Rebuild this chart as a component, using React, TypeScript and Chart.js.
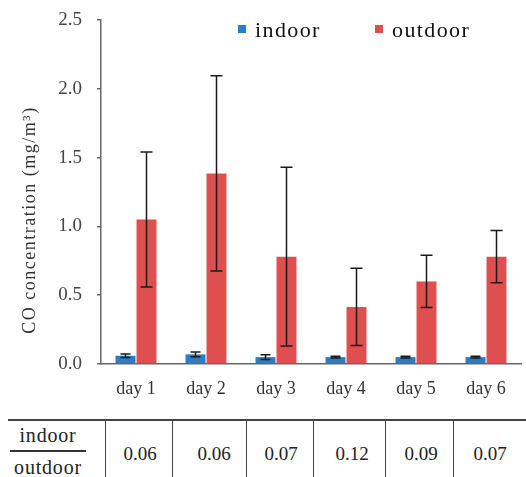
import React, { useEffect, useRef } from "react";
import { Chart, registerables } from "chart.js";

Chart.register(...registerables);

const categories = ["day 1", "day 2", "day 3", "day 4", "day 5", "day 6"];
const indoorValues = [0.06, 0.07, 0.05, 0.05, 0.05, 0.05];
const indoorErrors = [0.012, 0.018, 0.018, 0.006, 0.006, 0.006];
const outdoorValues = [1.05, 1.385, 0.78, 0.415, 0.6, 0.78];
const outdoorErrors = [0.49, 0.71, 0.65, 0.28, 0.19, 0.19];
const ratioLabels = ["0.06", "0.06", "0.07", "0.12", "0.09", "0.07"];
const seriesNames = ["indoor", "outdoor"];
const yTitle = "CO concentration (mg/m³)";

const BLUE = "#2e7bc6";
const RED = "#df4f4f";
const SERIF = "'Liberation Serif', 'Times New Roman', serif";

const errorBarPlugin = {
  id: "errorBars",
  afterDatasetsDraw(chart: any) {
    const ctx = chart.ctx;
    const y = chart.scales.y;
    chart.data.datasets.forEach((ds: any, i: number) => {
      const meta = chart.getDatasetMeta(i);
      meta.data.forEach((el: any, j: number) => {
        const v = ds.data[j];
        const e = ds.errors[j];
        const top = y.getPixelForValue(v + e);
        const bot = y.getPixelForValue(v - e);
        const cap = ds.capWidth / 2;
        ctx.save();
        ctx.strokeStyle = "#1a1a1a";
        ctx.lineWidth = 1.5;
        ctx.beginPath();
        ctx.moveTo(el.x, top);
        ctx.lineTo(el.x, bot);
        ctx.moveTo(el.x - cap, top);
        ctx.lineTo(el.x + cap, top);
        ctx.moveTo(el.x - cap, bot);
        ctx.lineTo(el.x + cap, bot);
        ctx.stroke();
        ctx.restore();
      });
    });
  },
};

const decorPlugin = {
  id: "decor",
  afterDraw(chart: any) {
    const ctx = chart.ctx;
    ctx.save();
    // y-axis title
    ctx.translate(35, 220);
    ctx.rotate(-Math.PI / 2);
    ctx.font = `18px ${SERIF}`;
    (ctx as any).letterSpacing = "1.5px";
    ctx.fillStyle = "#333";
    ctx.textAlign = "center";
    ctx.textBaseline = "alphabetic";
    ctx.fillText(yTitle, 0, 0);
    ctx.restore();

    // legend
    ctx.save();
    ctx.font = `22px ${SERIF}`;
    (ctx as any).letterSpacing = "1.4px";
    ctx.textBaseline = "alphabetic";
    ctx.textAlign = "left";
    const items = [
      { x: 238, color: BLUE, label: seriesNames[0] },
      { x: 375, color: RED, label: seriesNames[1] },
    ];
    items.forEach((it) => {
      ctx.fillStyle = it.color;
      ctx.fillRect(it.x, 25, 8, 8);
      ctx.fillStyle = "#111";
      ctx.fillText(it.label, it.x + 17, 37);
    });
    ctx.restore();
  },
};

export default function App() {
  const ref = useRef<HTMLCanvasElement | null>(null);

  useEffect(() => {
    document.body.style.margin = "0";
    document.body.style.overflow = "hidden";
    const canvas = ref.current!;
    const chart = new Chart(canvas, {
      type: "bar",
      data: {
        labels: categories,
        datasets: [
          {
            label: seriesNames[0],
            data: indoorValues,
            errors: indoorErrors,
            capWidth: 10,
            backgroundColor: BLUE,
            categoryPercentage: 0.6,
            barPercentage: 0.95,
          } as any,
          {
            label: seriesNames[1],
            data: outdoorValues,
            errors: outdoorErrors,
            capWidth: 12,
            backgroundColor: RED,
            categoryPercentage: 0.6,
            barPercentage: 0.95,
          } as any,
        ],
      },
      options: {
        responsive: false,
        animation: false,
        devicePixelRatio: 1,
        layout: { padding: { left: 0, top: 20, right: 5, bottom: 0 } },
        plugins: {
          legend: { display: false },
          tooltip: { enabled: false },
        },
        scales: {
          x: {
            grid: { display: false, drawTicks: false },
            border: { display: true, color: "#666", width: 1.5 },
            ticks: {
              color: "#333",
              padding: 14,
              font: { family: SERIF, size: 18 },
              maxRotation: 0,
            },
            afterFit(scale: any) {
              scale.height = 54;
              scale.paddingLeft = 0;
              scale.paddingRight = 0;
            },
          },
          y: {
            min: 0,
            max: 2.5,
            grid: {
              drawOnChartArea: false,
              drawTicks: true,
              tickLength: 4,
              color: "#666",
              lineWidth: 1.5,
            },
            border: { display: true, color: "#666", width: 1.5 },
            ticks: {
              stepSize: 0.5,
              color: "#444",
              padding: 15,
              font: { family: SERIF, size: 19 },
              callback: (v: any) => Number(v).toFixed(1),
            },
            afterFit(scale: any) {
              scale.width = 101;
              scale.paddingTop = 0;
              scale.paddingBottom = 0;
            },
          },
        },
      },
      plugins: [errorBarPlugin, decorPlugin],
    });
    return () => chart.destroy();
  }, []);

  const colLines = [105, 172, 246, 313, 385, 453];
  const valueCenters = [140, 214, 281, 352, 421, 490];

  const textStyle: React.CSSProperties = {
    position: "absolute",
    fontFamily: SERIF,
    color: "#222",
    whiteSpace: "nowrap",
    transform: "translate(-50%, -50%)",
    lineHeight: 1,
  };

  return (
    <div style={{ position: "relative", width: 526, height: 477, overflow: "hidden" }}>
      <canvas ref={ref} width={526} height={418} style={{ position: "absolute", left: 0, top: 0 }} />
      <div style={{ position: "absolute", left: 8, top: 419, width: 518, height: 2, background: "#444" }} />
      {colLines.map((x, i) => (
        <div key={"c" + i} style={{ position: "absolute", left: x - 0.5, top: 420, width: 1.5, height: 57, background: "#444" }} />
      ))}
      <div style={{ ...textStyle, left: 48, top: 435, fontSize: 20, letterSpacing: 0.8 }}>{seriesNames[0]}</div>
      <div style={{ position: "absolute", left: 10, top: 450, width: 76, height: 1.5, background: "#333" }} />
      <div style={{ ...textStyle, left: 48, top: 467, fontSize: 20, letterSpacing: 0.8 }}>{seriesNames[1]}</div>
      {ratioLabels.map((t, i) => (
        <div key={"v" + i} style={{ ...textStyle, left: valueCenters[i], top: 453, fontSize: 19 }}>{t}</div>
      ))}
    </div>
  );
}
